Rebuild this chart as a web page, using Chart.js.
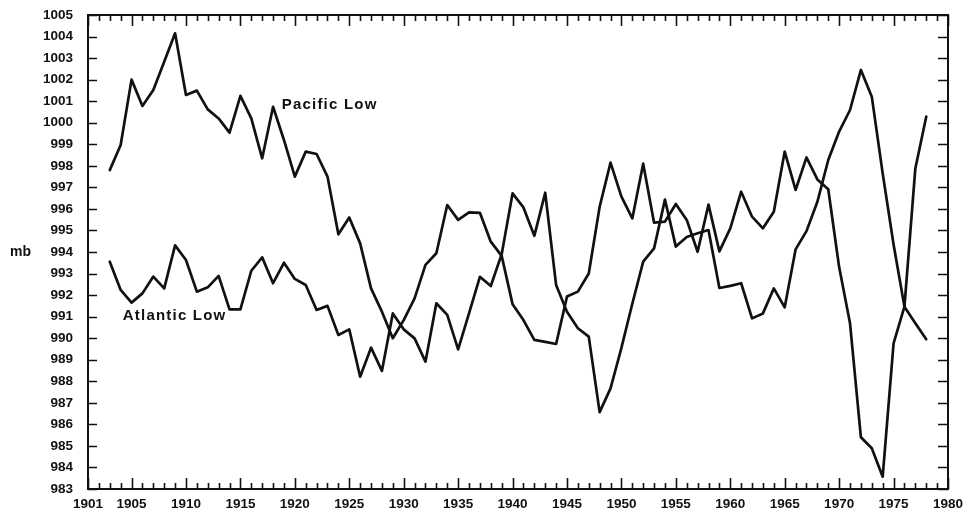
<!DOCTYPE html>
<html>
<head>
<meta charset="utf-8">
<script src="https://cdn.jsdelivr.net/npm/chart.js@4/dist/chart.umd.min.js"></script>
<style>
  html, body { margin: 0; padding: 0; background: #fff; }
  #wrap { width: 970px; height: 513px; position: relative; }
</style>
</head>
<body>
<div id="wrap"><canvas id="c" width="970" height="513"></canvas></div>
<script>
// Annual mean central pressure (mb) of the two oceanic lows
const years = [];
for (let y = 1903; y <= 1978; y++) years.push(y);

const pacificLow = [
  997.8, 998.97, 1002.0, 1000.78, 1001.52, 1002.83, 1004.15, 1001.29, 1001.49, 1000.62,
  1000.2, 999.54, 1001.25, 1000.2, 998.35, 1000.74, 999.2, 997.5, 998.66, 998.55,
  997.5, 994.82, 995.6, 994.4, 992.31, 991.23, 990.0, 990.84, 991.85, 993.4,
  993.94, 996.18, 995.49, 995.84, 995.82, 994.48, 993.82, 991.58, 990.84, 989.92,
  989.83, 989.73, 991.93, 992.16, 993.0, 996.1, 998.15, 996.57, 995.56, 998.1,
  995.36, 995.41, 996.23, 995.49, 994.01, 996.2, 994.03, 995.1, 996.8, 995.64,
  995.1, 995.87, 998.66, 996.88, 998.39, 997.37, 996.91, 993.3, 990.69, 985.4,
  984.89, 983.57, 989.76, 991.46, 997.88, 1000.28
];

const atlanticLow = [
  993.55, 992.24, 991.65, 992.08, 992.86, 992.31, 994.31, 993.63, 992.16, 992.36,
  992.89, 991.34, 991.34, 993.13, 993.75, 992.55, 993.5, 992.75, 992.47, 991.31,
  991.5, 990.15, 990.41, 988.21, 989.56, 988.48, 991.15, 990.41, 989.99, 988.91,
  991.62, 991.08, 989.48, 991.15, 992.85, 992.42, 993.9, 996.72, 996.07, 994.75,
  996.75, 992.47, 991.23, 990.46, 990.07, 986.57, 987.67, 989.55, 991.6, 993.55,
  994.17, 996.43, 994.25, 994.7, 994.87, 995.02, 992.33, 992.43, 992.55, 990.92,
  991.15, 992.31, 991.43, 994.12, 994.97, 996.33, 998.27, 999.59, 1000.59, 1002.45,
  1001.21, 997.65, 994.35, 991.46, 990.69, 989.95
];

// Axis tick labels
const yearTicks = [1901, 1905, 1910, 1915, 1920, 1925, 1930, 1935, 1940, 1945,
                   1950, 1955, 1960, 1965, 1970, 1975, 1980];
const mbTicks = [];
for (let v = 983; v <= 1005; v++) mbTicks.push(v);

const seriesNames = ['Pacific Low', 'Atlantic Low'];
const unitLabel = 'mb';

const INK = '#111';
const labelFont = { family: '"Liberation Sans", Arial, sans-serif', size: 13.5, weight: 'bold' };

const toPoints = vals => vals.map((v, i) => ({ x: years[i], y: v }));

// Frame, inward tick marks, unit label and in-plot series labels
const framePlugin = {
  id: 'frame',
  afterDatasetsDraw(chart) {
    const { ctx, chartArea: a, scales: { x, y } } = chart;
    ctx.save();
    ctx.strokeStyle = INK;
    ctx.lineWidth = 2;
    ctx.lineCap = 'butt';
    ctx.strokeRect(a.left, a.top, a.right - a.left, a.bottom - a.top);

    ctx.lineWidth = 1.6;
    ctx.beginPath();
    for (let yr = x.min; yr <= x.max; yr++) {
      const px = Math.round(x.getPixelForValue(yr)) + 0.5;
      const major = (yr % 5 === 0) || yr === x.min;
      const len = major ? 11 : 6;
      ctx.moveTo(px, a.bottom); ctx.lineTo(px, a.bottom - len);
      ctx.moveTo(px, a.top); ctx.lineTo(px, a.top + len);
    }
    for (let v = y.min; v <= y.max; v++) {
      const py = Math.round(y.getPixelForValue(v)) + 0.5;
      ctx.moveTo(a.left, py); ctx.lineTo(a.left + 9, py);
      ctx.moveTo(a.right, py); ctx.lineTo(a.right - 10, py);
    }
    ctx.stroke();

    ctx.fillStyle = INK;
    ctx.font = 'bold 14px "Liberation Sans", Arial, sans-serif';
    ctx.textBaseline = 'middle';
    ctx.textAlign = 'left';
    ctx.fillText(unitLabel, 10, y.getPixelForValue(994));

    ctx.font = 'bold 15px "Liberation Sans", Arial, sans-serif';
    ctx.letterSpacing = '1.2px';
    ctx.fillText(seriesNames[0], x.getPixelForValue(1918.8), y.getPixelForValue(1000.85));
    ctx.fillText(seriesNames[1], x.getPixelForValue(1904.2), y.getPixelForValue(991.05));
    ctx.restore();
  }
};

new Chart(document.getElementById('c'), {
  type: 'line',
  data: {
    datasets: [
      { label: seriesNames[0], data: toPoints(pacificLow) },
      { label: seriesNames[1], data: toPoints(atlanticLow) }
    ].map(d => Object.assign(d, {
      borderColor: INK,
      borderWidth: 2.7,
      pointRadius: 0,
      tension: 0,
      fill: false,
      borderJoinStyle: 'round',
      borderCapStyle: 'round'
    }))
  },
  options: {
    responsive: false,
    animation: false,
    layout: { padding: { top: 15, right: 22, left: 0, bottom: 0 } },
    plugins: { legend: { display: false }, tooltip: { enabled: false } },
    scales: {
      x: {
        type: 'linear',
        min: 1901,
        max: 1980,
        grid: { display: false, drawTicks: false },
        border: { display: false },
        afterBuildTicks: s => { s.ticks = yearTicks.map(v => ({ value: v })); },
        afterFit: s => { s.height = 24; s.paddingLeft = 0; s.paddingRight = 0; },
        ticks: {
          color: INK, font: labelFont, padding: 7, maxRotation: 0, autoSkip: false,
          callback: v => String(v)
        }
      },
      y: {
        min: 983,
        max: 1005,
        grid: { display: false, drawTicks: false },
        border: { display: false },
        afterBuildTicks: s => { s.ticks = mbTicks.map(v => ({ value: v })); },
        afterFit: s => { s.width = 88; s.paddingTop = 0; s.paddingBottom = 0; },
        ticks: {
          color: INK, font: labelFont, padding: 15, autoSkip: false,
          callback: v => String(v)
        }
      }
    }
  },
  plugins: [framePlugin]
});
</script>
</body>
</html>
